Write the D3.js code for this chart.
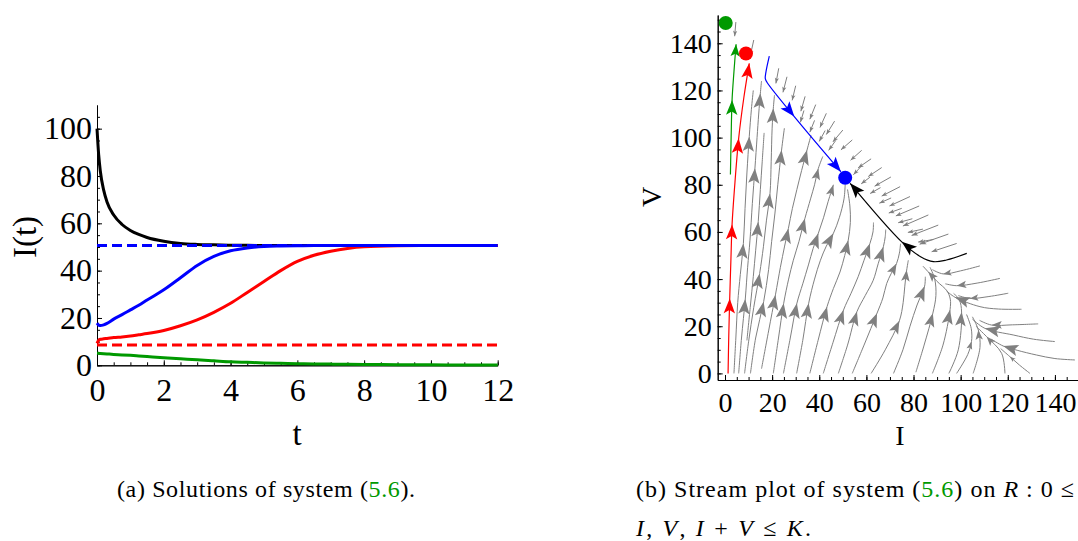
<!DOCTYPE html>
<html>
<head>
<meta charset="utf-8">
<script src="https://cdn.jsdelivr.net/npm/d3@7"></script>
<style>
  body { margin: 0; background: #fff; }
  svg { display: block; }
  text { font-family: "Liberation Serif", "Times New Roman", serif; fill: #000; }
</style>
</head>
<body>
<svg id="fig" width="1078" height="541"></svg>
<script>
// ── Panel (a): solutions I(t) ──
const tVals = [0, 0.05, 0.1, 0.2, 0.3, 0.5, 0.75, 1, 1.25, 1.5, 2, 2.5, 3, 3.5, 4, 4.5, 5, 5.5, 6, 6.5, 7, 7.5, 8, 9, 10, 11, 12];
const blackI = [100, 89, 82, 74, 69, 63.5, 59.5, 57, 55.3, 54, 52.4, 51.5, 51.1, 50.9, 50.75, 50.7, 50.65, 50.6, 50.6, 50.6, 50.6, 50.6, 50.6, 50.6, 50.6, 50.6, 50.6];
const blueI  = [17.8, 17, 16.8, 17.1, 17.7, 19.5, 21.4, 23.4, 25.4, 27.6, 31.9, 37, 42.2, 46, 48.4, 49.6, 50.2, 50.4, 50.5, 50.6, 50.6, 50.6, 50.6, 50.6, 50.6, 50.6, 50.6];
const redI   = [9.3, 10.6, 11, 11.2, 11.35, 11.7, 12, 12.4, 12.9, 13.4, 14.7, 16.7, 19.2, 22.4, 26.2, 30.8, 35.4, 40, 43.9, 46.5, 48.2, 49.4, 50.1, 50.5, 50.6, 50.6, 50.6];
const greenI = [5.1, 5.05, 5, 4.9, 4.8, 4.6, 4.4, 4.2, 3.95, 3.7, 3.2, 2.75, 2.3, 1.9, 1.5, 1.25, 1, 0.85, 0.7, 0.6, 0.5, 0.42, 0.35, 0.27, 0.2, 0.15, 0.1];
const eqBlue = 50.6;   // dashed levels
const eqRed  = 8.6;
const tTicks = [0, 2, 4, 6, 8, 10, 12];
const iTicks = [0, 20, 40, 60, 80, 100];

// ── Panel (b): stream plot on I+V <= K ──
const ivTicks = [0, 20, 40, 60, 80, 100, 120, 140];
// gray streamlines [I, V]; streamArrows holds the point indices that carry an arrowhead
const streamLines = [
  // fan rising from V = 0
  [[3.8,0],[4.6,15],[5.4,30],[6.5,42],[7.8,55.1],[8.5,70],[9.3,85],[10.3,100.5],[11.2,112],[12,120]],
  [[5.8,0],[7,15],[8.6,31.5],[9.6,45],[10.6,56.5],[11.6,72],[12.7,87],[13.6,100],[14.3,110],[15,118.8],[15.5,124]],
  [[9.3,14],[10.7,28],[12,41],[13,52],[14.1,64.3],[15,78],[15.8,90],[16.6,102]],
  [[8.3,0],[10,13.4],[12.2,28],[14.7,42.4],[16.3,53.7],[17.6,65],[19.1,76.3],[19.6,90],[20,104],[20.5,112.4],[21,118]],
  [[10.8,0],[13,15],[16.4,30.4],[18.5,44],[19.8,56],[21.2,68],[22.4,80],[24,94.7],[25.2,104]],
  [[15.5,2],[18.5,18],[21.4,33.3],[23.5,45],[25.3,54],[26.9,61.5],[28.6,70],[30.5,78],[32.5,86],[34.8,94.7],[36.5,101]],
  [[20.5,0],[22.7,15],[24.9,29.7],[27,40],[29,48],[31.4,56],[33.9,65.7],[36.3,74],[38,80],[39.6,86.9],[41.5,92]],
  [[24.8,0],[27.7,15],[30.5,29.7],[33,38],[35.4,46],[37.4,53],[39.6,59.4],[41.8,66],[43.8,73],[46,80]],
  [[30.4,0],[33,14],[35.5,29.7],[38,40],[40.5,48],[43,54],[46,59.4],[48.5,66],[50.5,74],[51,80]],
  [[36,0],[39.5,14],[43.3,28.3],[46,36],[48.8,43],[50.8,50],[52.3,56.5],[53.2,64],[53,71],[52,78]],
  [[41.7,0],[45.8,13],[50.3,26.9],[53.5,34],[56.5,41],[59,48],[61.5,55.1],[62.8,60],[63,64]],
  [[48.1,0],[52,12],[56,26.2],[59.5,33],[62.9,39.5],[65,46.5],[67.2,53.7],[68,58],[68.2,61]],
  [[54,0],[59,12],[64.5,25.5],[67,32],[68.6,38.1],[70.6,42.5],[72.8,46.6],[74,51],[74.5,55]],
  [[62,0],[68,10],[74,22.3],[75.6,30],[76.3,37],[77.1,43.8],[77.8,48]],
  [[71.5,0],[75.5,10],[78.5,20],[81.5,29],[84.7,37],[85,41]],
  [[81,0.5],[84.5,12],[88.2,25.5],[89.5,33],[89,40],[87,45]],
  [[88,0],[92.5,12],[95.5,27],[95.6,31.5],[94.2,35],[90,39],[86.2,43.1],[84,45.5]],
  [[95,0],[99,10],[100.4,26],[99.5,31],[97,34]],
  [[98.3,0],[103,8],[104.6,13.5],[104.5,19],[102.5,25]],
  [[105.3,0],[108.2,11],[107.5,18.4],[105,24]],
  [[118.8,0],[117.4,8.5],[111,15.6],[106.5,20]],
  [[129.4,0],[125,3.5],[120.9,7.1],[117,10.5]],
  // entering from the right
  [[148.5,5.7],[140,6.3],[132.2,7.8],[124,9.8],[118.1,11.6],[113,14.5]],
  [[140,13.5],[131,14.5],[122.3,16.3],[110.3,19.1],[105,23]],
  [[132.9,21],[122,20.6],[113.1,20.5],[108,22.5]],
  [[125.8,27.2],[116,27.3],[108.2,28.3],[97.6,32.3],[94,35]],
  [[120.2,34],[112,32.6],[103.9,31.8],[99,33]],
  [[116.7,40.3],[107,38.3],[98.3,37.2],[93.5,38]],
  [[108.2,45.6],[100,43.5],[92.6,42.2],[88,44]],
  // small ones at the top left
  [[4.6,149],[4.1,143]],
  [[12.2,141.4],[10.7,134.5]],
  // outer row along the hypotenuse
  [[22.8,129.4],[21.6,123]],
  [[26.3,125.8],[24.6,119.2]],
  [[30,122],[28.5,115.8]],
  [[34,117.5],[32.2,111.2]],
  [[38.5,114],[36,107.8]],
  [[43,110.3],[40.3,104.3]],
  [[46.5,107],[43,101.3]],
  [[50,103.2],[45.8,98.2]],
  [[54,99],[49.2,94.8]],
  [[58,94.6],[53.3,90.4]],
  [[62,91],[56.5,87.2]],
  [[66.5,87.3],[60.8,83.5]],
  [[70.4,83.3],[63.5,79.4]],
  [[74.3,79.2],[66.5,75.2]],
  [[78.5,75],[69.8,71]],
  [[82.4,71],[72.5,66.8]],
  [[86.3,67.2],[75.5,62.5]],
  [[90.5,62.9],[79.2,58.5]],
  [[94.8,59.1],[82.6,54.8]],
  [[98.3,55.1],[87.7,51.6]],
  // inner row
  [[33.5,111.5],[32,106.5]],
  [[38,107.3],[36,102.3]],
  [[42.5,103],[40,98.4]],
  [[47,98.8],[44,94.6]],
  [[57.5,87.5],[54.5,84.3]],
  [[61.5,83.2],[57.8,80.4]],
  [[66,78.8],[61.6,76.3]],
  [[70.5,74.4],[65.5,72.2]],
  [[75,70],[69.5,68]],
  [[79.5,65.6],[73.5,63.9]],
  [[84,61.2],[77.6,59.8]],
  [[88.5,56.8],[82,55.7]]
];
const streamArrows = [
  [4,7], [2,6,9], [4], [3,6,9], [2,7], [2,5,9], [2,6,9], [2,6,9], [2,6], [2,6], [2,6], [2,6], [2,6], [2,5], [4], [2], [2,6], [2], [2], [2], [2], [2],
  [4], [3], [2], [3], [2], [2], [2],
  [1], [1],
  [1], [1], [1], [1], [1], [1], [1], [1], [1], [1], [1], [1], [1], [1], [1], [1], [1], [1], [1], [1],
  [1], [1], [1], [1], [1], [1], [1], [1], [1], [1], [1], [1]
];
// highlighted trajectories
const redTraj   = [[1.3,0],[1.6,16],[2,31.8],[2.5,48],[3,63.2],[4.3,82],[5.8,99.7],[8,117],[10.3,131.5]];
const redArrows = [2, 4, 6, 8];
const greenTraj   = [[2.3,84.4],[2.6,100],[3,116],[3.8,128],[4.7,139.6]];
const greenArrows = [2, 4];
const blueTraj   = [[18.8,134.6],[17.4,128],[17.1,125],[17.8,123.5],[29.4,108.9],[49.2,85.5]];
const blueArrows = [4, 5];
const blackTraj   = [[102.6,50.9],[94,48.1],[88.4,47.4],[83,49.5],[75,55.8],[53.1,80.6]];
const blackArrows = [4, 5];
const points = [
  { name: 'green', I: 0.3, V: 148.6 },
  { name: 'red',   I: 8.9, V: 135.7 },
  { name: 'blue',  I: 51,  V: 83 }
];

const colors = { black: '#000000', blue: '#0000ff', red: '#ff0000', green: '#009900', gray: '#808080' };
const serif = '"Liberation Serif", "Times New Roman", serif';
const svg = d3.select('#fig');

// ── Panel (a) ──
const xa = d3.scaleLinear().domain([0, 12]).range([97, 497.7]);
const ya = d3.scaleLinear().domain([0, 110]).range([365.3, 105]);

function styleAxis(g, size) {
  g.attr('font-family', serif);
  g.select('.domain').attr('stroke', '#000').attr('stroke-width', 1);
  g.selectAll('.tick line').attr('stroke', '#000');
  g.selectAll('text').style('font-size', size + 'px').style('font-family', serif).attr('fill', '#000');
}

svg.append('g').attr('transform', 'translate(0,365.3)')
  .call(d3.axisBottom(xa).tickValues(d3.range(0, 12.01, 0.5)).tickSize(-3).tickSizeOuter(0).tickFormat(''))
  .call(g => styleAxis(g, 0));
svg.append('g').attr('transform', 'translate(0,365.3)')
  .call(d3.axisBottom(xa).tickValues(tTicks).tickSize(-5).tickSizeOuter(0).tickPadding(13))
  .call(g => styleAxis(g, 32));
svg.append('g').attr('transform', 'translate(97,0)')
  .call(d3.axisLeft(ya).tickValues(d3.range(0, 110, 5)).tickSize(-3).tickSizeOuter(0).tickFormat(''))
  .call(g => styleAxis(g, 0));
svg.append('g').attr('transform', 'translate(97,0)')
  .call(d3.axisLeft(ya).tickValues(iTicks).tickSize(-5).tickSizeOuter(0).tickPadding(5))
  .call(g => styleAxis(g, 32));

const lineA = d3.line()
  .x(d => xa(d[0]))
  .y(d => ya(d[1]))
  .curve(d3.curveMonotoneX);

const plotA = svg.append('g');
function drawSeries(vals, color) {
  plotA.append('path')
    .datum(tVals.map((t, i) => [t, vals[i]]))
    .attr('fill', 'none')
    .attr('stroke', color)
    .attr('stroke-width', 3)
    .attr('d', lineA);
}
function drawLevel(v, color) {
  plotA.append('path')
    .datum([[0, v], [12, v]])
    .attr('fill', 'none')
    .attr('stroke', color)
    .attr('stroke-width', 3)
    .attr('stroke-dasharray', '10,5')
    .attr('d', lineA);
}
drawSeries(blackI, colors.black);
drawSeries(redI, colors.red);
drawSeries(greenI, colors.green);
drawLevel(eqBlue, colors.blue);
drawLevel(eqRed, colors.red);
drawSeries(blueI, colors.blue);

svg.append('text')
  .attr('transform', 'translate(36,237) rotate(-90)')
  .attr('text-anchor', 'middle')
  .style('font-family', serif)
  .style('font-size', '33px')
  .text('I(t)');
svg.append('text')
  .attr('x', 297).attr('y', 445)
  .attr('text-anchor', 'middle')
  .style('font-family', serif)
  .style('font-size', '33px')
  .text('t');

// ── Panel (b) ──
const xb = d3.scaleLinear().domain([-3.1, 149.8]).range([717.7, 1078]);
const yb = d3.scaleLinear().domain([-2.8, 152]).range([380, 15]);

svg.append('g').attr('transform', 'translate(0,380)')
  .call(d3.axisBottom(xb).tickValues(d3.range(0, 150, 5)).tickSize(-3).tickSizeOuter(0).tickFormat(''))
  .call(g => styleAxis(g, 0));
svg.append('g').attr('transform', 'translate(0,380)')
  .call(d3.axisBottom(xb).tickValues(ivTicks).tickSize(-5).tickSizeOuter(0).tickPadding(12))
  .call(g => styleAxis(g, 28));
svg.append('g').attr('transform', 'translate(717.7,0)')
  .call(d3.axisLeft(yb).tickValues(d3.range(0, 151, 5)).tickSize(-3).tickSizeOuter(0).tickFormat(''))
  .call(g => styleAxis(g, 0));
svg.append('g').attr('transform', 'translate(717.7,0)')
  .call(d3.axisLeft(yb).tickValues(ivTicks).tickSize(-5).tickSizeOuter(0).tickPadding(6))
  .call(g => styleAxis(g, 28));

const lineB = d3.line()
  .x(d => xb(d[0]))
  .y(d => yb(d[1]))
  .curve(d3.curveCatmullRom);

const plotB = svg.append('g');
// streamline with arrowheads; head size follows the run since the previous head
function drawStream(pts, arrows, color, width) {
  plotB.append('path')
    .datum(pts)
    .attr('fill', 'none')
    .attr('stroke', color)
    .attr('stroke-width', width)
    .attr('d', lineB);

  const px = pts.map(d => [xb(d[0]), yb(d[1])]);
  let from = 0;
  arrows.forEach(k => {
    let run = 0;
    for (let i = from + 1; i <= k; i++) run += Math.hypot(px[i][0] - px[i-1][0], px[i][1] - px[i-1][1]);
    from = k;
    const tip = px[k], prev = px[k - 1];
    const ang = Math.atan2(tip[1] - prev[1], tip[0] - prev[0]) * 180 / Math.PI;
    const s = Math.max(5.5, Math.min(15, run * 0.22));
    plotB.append('path')
      .attr('d', `M0,0L${-s},${-s * 0.38}L${-s * 0.78},0L${-s},${s * 0.38}Z`)
      .attr('transform', `translate(${tip[0]},${tip[1]}) rotate(${ang})`)
      .attr('fill', color);
  });
}

streamLines.forEach((pts, i) => drawStream(pts, streamArrows[i], colors.gray, 1));
drawStream(redTraj, redArrows, colors.red, 1.2);
drawStream(greenTraj, greenArrows, colors.green, 1.2);
drawStream(blueTraj, blueArrows, colors.blue, 1.2);
drawStream(blackTraj, blackArrows, colors.black, 1.2);

plotB.selectAll('circle')
  .data(points)
  .enter()
  .append('circle')
  .attr('cx', d => xb(d.I))
  .attr('cy', d => yb(d.V))
  .attr('r', 7)
  .attr('fill', d => colors[d.name]);

svg.append('text')
  .attr('transform', 'translate(661,197) rotate(-90)')
  .attr('text-anchor', 'middle')
  .style('font-family', serif)
  .style('font-size', '28px')
  .text('V');
svg.append('text')
  .attr('x', 900).attr('y', 445)
  .attr('text-anchor', 'middle')
  .style('font-family', serif)
  .style('font-size', '28px')
  .text('I');

// ── Captions ──
function caption(x, y, width, parts) {
  const t = svg.append('text')
    .attr('x', x).attr('y', y)
    .attr('textLength', width)
    .attr('lengthAdjust', 'spacing')
    .style('font-family', serif)
    .style('font-size', '24px');
  parts.forEach(p => {
    t.append('tspan')
      .attr('fill', p.c || '#000')
      .style('font-style', p.i ? 'italic' : 'normal')
      .text(p.s);
  });
}
caption(117, 497, 298, [
  { s: '(a) Solutions of system (' }, { s: '5.6', c: colors.green }, { s: ').' }
]);
caption(636, 497, 438, [
  { s: '(b) Stream plot of system (' }, { s: '5.6', c: colors.green }, { s: ') on ' },
  { s: 'R', i: true }, { s: ' : 0 \u2264' }
]);
caption(636, 536, 175, [
  { s: 'I', i: true }, { s: ', ' }, { s: 'V', i: true }, { s: ', ' }, { s: 'I', i: true },
  { s: ' + ' }, { s: 'V', i: true }, { s: ' \u2264 ' }, { s: 'K', i: true }, { s: '.' }
]);
</script>
</body>
</html>
